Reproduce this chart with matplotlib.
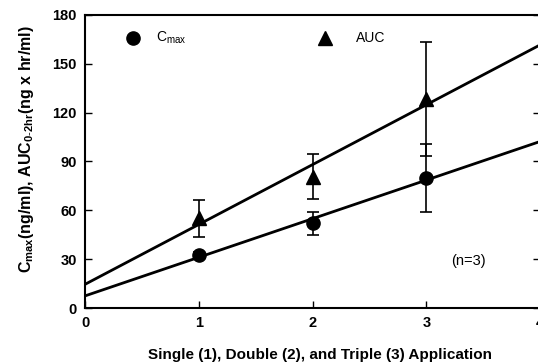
import numpy as np
import matplotlib
matplotlib.use("Agg")
import matplotlib.pyplot as plt

plt.rcParams['font.family'] = ['Liberation Sans', 'DejaVu Sans']
plt.rcParams['mathtext.fontset'] = 'custom'
plt.rcParams['mathtext.rm'] = 'Liberation Sans'
plt.rcParams['mathtext.bf'] = 'Liberation Sans:bold'

applications = [1, 2, 3]
cmax_mean = [32.6, 52.0, 80.0]
cmax_sd = [2.0, 7.0, 21.0]
auc_mean = [55.0, 80.7, 128.5]
auc_sd = [11.5, 14.0, 35.0]
xticks = [0, 1, 2, 3, 4]
yticks = [0, 30, 60, 90, 120, 150, 180]

fig = plt.figure(figsize=(5.38, 3.62), dpi=100)
ax = fig.add_axes([0.158, 0.149, 0.846, 0.810])

# regression lines
xs = np.array([0, 4])
for y in (cmax_mean, auc_mean):
    k, b = np.polyfit(applications, y, 1)
    ax.plot(xs, k * xs + b, color='black', lw=2.0, zorder=2)

ax.errorbar(applications, cmax_mean, yerr=cmax_sd, fmt='o', color='black',
            ms=9.5, capsize=4.5, elinewidth=1.2, capthick=1.2, zorder=3)
ax.errorbar(applications, auc_mean, yerr=auc_sd, fmt='^', color='black',
            ms=9.5, capsize=4.5, elinewidth=1.2, capthick=1.2, zorder=3)

# legend drawn in data space
ax.plot([0.42], [166], 'o', color='black', ms=9.5)
ax.text(0.62, 166, r'C$_{\mathrm{max}}$', fontsize=10, va='center')
ax.plot([2.11], [166], '^', color='black', ms=9.5)
ax.text(2.38, 166, 'AUC', fontsize=10, va='center')
ax.text(3.22, 29, '(n=3)', fontsize=10.5, va='center')

ax.set_xlim(0, 4)
ax.set_ylim(0, 180)
ax.set_xticks(xticks)
ax.set_yticks(yticks)
ax.tick_params(direction='in', length=5, width=1, top=False, right=True,
               labelsize=10.5, pad=6)
ax.tick_params(axis='x', pad=6)
for lab in ax.get_xticklabels() + ax.get_yticklabels():
    lab.set_fontweight('bold')
for s in ax.spines.values():
    s.set_linewidth(1.5)

ax.set_xlabel('Single (1), Double (2), and Triple (3) Application',
              fontsize=11, fontweight='bold', labelpad=13)
ax.xaxis.label.set_x(0.516)
ax.set_ylabel(r'C$_{\mathbf{max}}$(ng/ml), AUC$_{\mathbf{0\text{-}2hr}}$(ng x hr/ml)',
              fontsize=11.5, fontweight='bold', labelpad=12)
ax.yaxis.label.set_y(0.543)

fig.savefig('out.png', dpi=100)
